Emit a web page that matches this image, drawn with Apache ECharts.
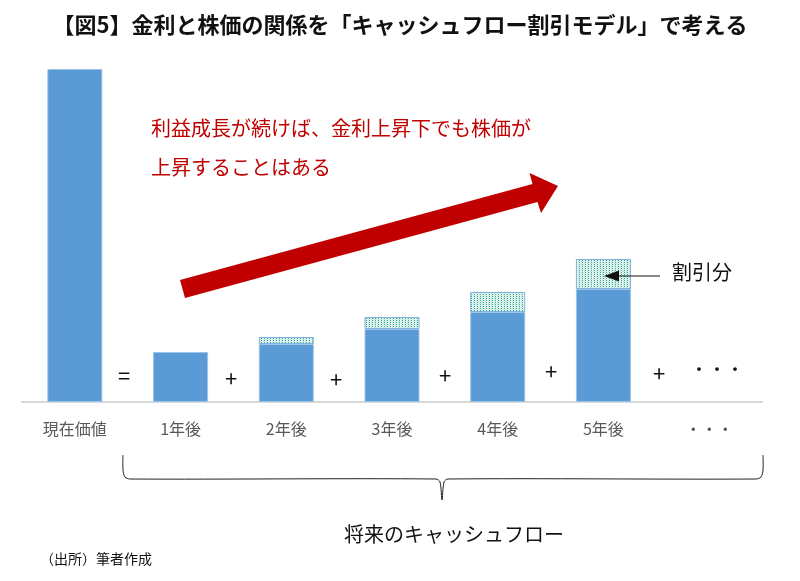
<!DOCTYPE html>
<html>
<head>
<meta charset="utf-8">
<script src="https://cdn.jsdelivr.net/npm/echarts@6/dist/echarts.min.js"></script>
<style>
html,body{margin:0;padding:0;background:#fff;}
#c{width:800px;height:581px;}
</style>
</head>
<body>
<div id="c"></div>
<script>
const categories = ['現在価値', '1年後', '2年後', '3年後', '4年後', '5年後', '・・・'];
const presentValues = [333, 50, 58, 73, 90, 113, '-'];
const discountValues = ['-', '-', 7, 12, 20, 30, '-'];
const operators = ['=', '+', '+', '+', '+', '+'];

const FONT = '"Noto Sans CJK JP", "Noto Sans", sans-serif';

// dotted pattern for the discount part
const pc = document.createElement('canvas');
pc.width = 3; pc.height = 2;
const px = pc.getContext('2d');
px.fillStyle = '#e4f5f1';
px.fillRect(0, 0, 3, 2);
px.fillStyle = '#2fa58e';
px.fillRect(0, 0, 1, 1);
px.fillStyle = '#b9e3da';
px.fillRect(2, 1, 1, 1);

const chart = echarts.init(document.getElementById('c'));

const opX = [124, 231, 336, 445, 551, 659];
const opY = [376, 379, 380, 376, 372, 374];
const opGraphics = operators.map((s, i) => ({
  type: 'text', x: opX[i], y: opY[i], z: 100,
  style: { text: s, font: '22px ' + FONT, fill: '#111', align: 'center', verticalAlign: 'middle' }
}));

chart.setOption({
  animation: false,
  backgroundColor: '#fff',
  title: {
    text: '【図5】金利と株価の関係を「キャッシュフロー割引モデル」で考える',
    left: 'center', top: 9,
    textStyle: { fontFamily: FONT, fontSize: 22, fontWeight: 'bold', color: '#111' }
  },
  grid: { left: 22, right: 38, top: 52, bottom: 179 },
  xAxis: {
    type: 'category', data: categories,
    axisLine: { lineStyle: { color: '#d9d9d9', width: 2 } },
    axisTick: { show: false },
    axisLabel: { color: '#595959', fontFamily: FONT, fontSize: 16, margin: 19 }
  },
  yAxis: {
    type: 'value', min: 0, max: 350,
    show: false, splitLine: { show: false }
  },
  series: [
    {
      type: 'bar', stack: 'a', data: presentValues, barWidth: 55,
      itemStyle: { color: '#5b9bd5', borderColor: '#9dc3e6', borderWidth: 1 }
    },
    {
      type: 'bar', stack: 'a', data: discountValues, barWidth: 55,
      itemStyle: { color: { image: pc, repeat: 'repeat' }, borderColor: '#7fb2e0', borderWidth: 1 }
    }
  ],
  graphic: [
    {
      type: 'text', left: 151, top: 118, z: 100,
      style: { text: '利益成長が続けば、金利上昇下でも株価が', font: '20px ' + FONT, fill: '#c00000' }
    },
    {
      type: 'text', left: 151, top: 157, z: 100,
      style: { text: '上昇することはある', font: '20px ' + FONT, fill: '#c00000' }
    },
    {
      type: 'polygon', z: 100,
      shape: { points: [[180, 280], [185, 298], [537.5, 202], [541, 213], [558, 186], [529.5, 173], [532.5, 184]] },
      style: { fill: '#c00000' }
    },
    {
      type: 'line', z: 100, shape: { x1: 660, y1: 276, x2: 615, y2: 276 },
      style: { stroke: '#111', lineWidth: 1 }
    },
    {
      type: 'polygon', z: 100, shape: { points: [[604, 276], [619, 270.5], [619, 281.5]] },
      style: { fill: '#111' }
    },
    {
      type: 'text', left: 672, top: 262, z: 100,
      style: { text: '割引分', font: '20px ' + FONT, fill: '#111' }
    },
    {
      type: 'text', left: 690, top: 360, z: 100,
      style: { text: '・・・', font: '18px ' + FONT, fill: '#111' }
    },
    {
      type: 'polyline', z: 100,
      shape: { points: [[123, 455], [123, 470], [125, 477], [130, 479], [436, 479], [440, 482], [442, 500], [444, 482], [448, 479], [756, 479], [761, 477], [763, 470], [763, 455]], smooth: 0.3 },
      style: { stroke: '#222', lineWidth: 1, fill: null }
    },
    {
      type: 'text', left: 344, top: 524, z: 100,
      style: { text: '将来のキャッシュフロー', font: '20px ' + FONT, fill: '#111' }
    },
    {
      type: 'text', left: 40, top: 552, z: 100,
      style: { text: '（出所）筆者作成', font: '14px ' + FONT, fill: '#111' }
    }
  ].concat(opGraphics)
});
</script>
</body>
</html>
